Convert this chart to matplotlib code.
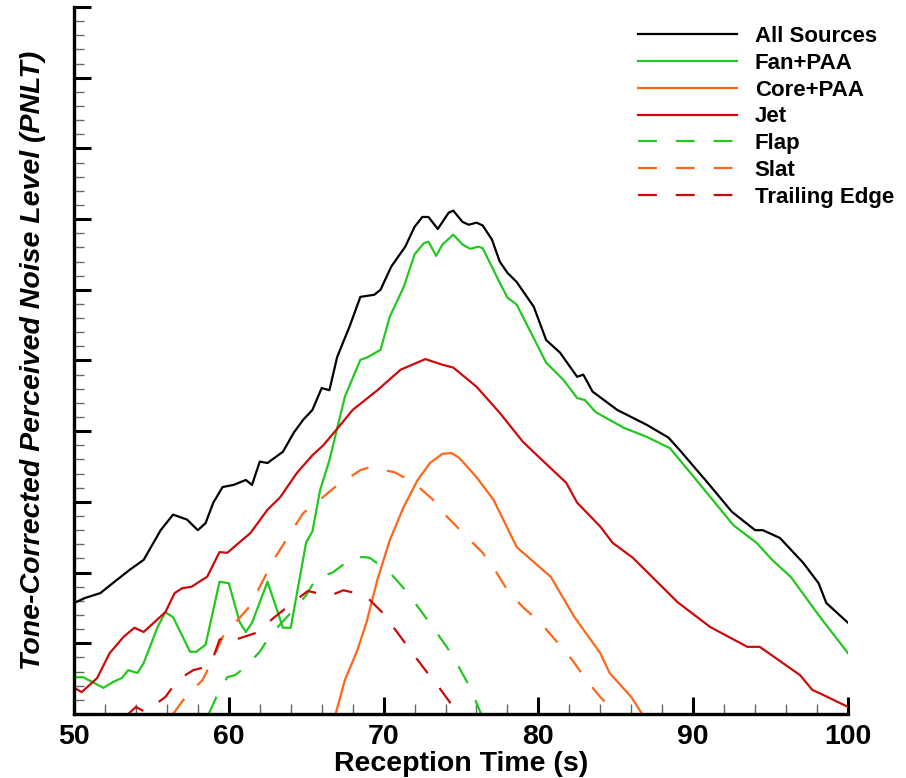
import matplotlib.pyplot as plt
from matplotlib.ticker import MultipleLocator, NullFormatter

plt.rcParams['font.family'] = ['Liberation Sans', 'DejaVu Sans']
plt.rcParams['font.weight'] = 'bold'

# All Sources
all_x = [50, 50.7, 51.7, 52.5, 53.6, 54.5, 55.6, 56.4, 57.3, 58, 58.5, 59, 59.6, 60.3, 61.1, 61.5,
         62, 62.5, 63.5, 64.2, 64.8, 65.4, 66, 66.5, 67, 67.8, 68.5, 69.4, 69.8, 70.5, 71.4, 72,
         72.5, 72.9, 73.5, 74.2, 74.5, 75.1, 75.5, 76, 76.4, 77, 77.5, 78, 78.6, 79.7, 80.5, 81.4,
         82.5, 82.9, 83.5, 85.1, 87, 88.4, 89.1, 90.9, 92.5, 94, 94.5, 95.6, 97.1, 98.1, 98.6, 100]
all_y = [15.7, 16.4, 17.1, 18.5, 20.4, 21.8, 26, 28.2, 27.5, 26, 27, 29.9, 32.1, 32.4, 33.1, 32.4,
         35.7, 35.5, 37.1, 39.8, 41.6, 43, 46.1, 45.8, 50.5, 54.8, 59, 59.3, 60, 63.3, 66.1, 68.9,
         70.3, 70.3, 68.6, 70.9, 71.2, 69.6, 69.2, 69.5, 69.1, 67.1, 64, 62.4, 61.1, 57.6, 52.9, 51.1,
         47.7, 48, 45.6, 43, 40.9, 39.1, 37.4, 32.8, 28.6, 26, 26, 24.9, 21.4, 18.5, 15.7, 12.9]

# Fan+PAA
fan_x = [50, 50.6, 51.9, 52.5, 53.1, 53.5, 54.1, 54.5, 55.4, 55.9, 56.4, 57.5, 57.9, 58.5, 59.4, 60,
         60.7, 61.1, 61.5, 62.5, 63.5, 64, 65, 65.4, 65.9, 66.5, 67.5, 68.5, 68.9, 69.8, 70.4, 71.3,
         72, 72.6, 72.9, 73.4, 73.8, 74.5, 75.1, 75.6, 76.1, 76.4, 77.5, 78, 78.6, 80.5, 81.6, 82.5,
         83, 83.7, 85.5, 87, 88.5, 90.2, 92.6, 94.1, 95.1, 96.3, 98.2, 100]
fan_y = [5.2, 5.2, 3.7, 4.5, 5.1, 6.2, 5.8, 7.2, 12.3, 14.4, 13.7, 8.8, 8.8, 9.8, 18.7, 18.5,
         13, 11.6, 12.9, 18.7, 12.2, 12.2, 24.3, 25.8, 31.7, 35.9, 44.9, 50.1, 50.4, 51.5, 56.2, 60.4,
         65, 66.6, 66.8, 64.8, 66.4, 67.8, 66.4, 65.8, 66.1, 65.9, 61, 58.9, 57.9, 49.7, 47.3, 44.7,
         44.4, 42.7, 40.5, 39.2, 37.6, 33.1, 26.7, 24.2, 21.8, 19.4, 13.7, 8.6]

# Core+PAA
core_x = [66.9, 67.5, 68.3, 68.9, 69.6, 70.4, 71.3, 72.2, 73, 73.8, 74.4, 74.9, 76, 77.1, 78.6,
          79.7, 80.8, 82.3, 84, 84.6, 86, 86.7]
core_y = [0, 4.8, 9, 13, 19, 24.6, 29.3, 33.1, 35.5, 36.8, 36.9, 36.2, 33.5, 30.3, 23.6,
          21.5, 19.4, 13.8, 8.6, 5.8, 2.4, 0]

# Jet
jet_x = [50, 50.5, 51.5, 52.3, 53.2, 53.9, 54.5, 55.9, 56.5, 57, 57.6, 58.3, 58.6, 59.4, 59.9,
         60.7, 61.4, 62.5, 63.3, 64.4, 65.4, 66.1, 67.1, 68, 69.6, 71.1, 72.7, 73.8, 74.5, 76,
         77.5, 79, 80.1, 81.8, 82.5, 84, 84.8, 86.1, 89, 91.1, 93.5, 94.3, 96.9, 97.7, 98.4, 100]
jet_y = [3.7, 3.1, 5.1, 8.6, 10.9, 12.2, 11.6, 14.4, 17.1, 17.8, 18, 19, 19.4, 22.9, 22.8,
         24.3, 25.6, 28.9, 30.6, 34.1, 36.6, 38, 40.6, 43, 45.8, 48.7, 50.2, 49.4, 49, 46.3,
         42.6, 38.5, 36.2, 32.7, 29.9, 26.5, 24.2, 22.1, 15.8, 12.3, 9.5, 9.5, 5.5, 3.4, 2.7, 1]

# Flap
flap_x = [58.7, 59.2, 59.9, 60.4, 61, 62, 62.7, 64, 65, 65.7, 66.3, 66.7, 68, 68.7, 69.1, 70.4,
          71.5, 72.5, 73.4, 74.2, 74.9, 75.6, 76.3]
flap_y = [0, 2.4, 5.2, 5.5, 6.5, 8.8, 11.2, 14.3, 16.8, 19.4, 19.7, 20, 22.1, 22.2, 22.1, 20,
          17.3, 14.3, 11.6, 9.1, 6.5, 3.7, 0]

# Slat
slat_x = [56.4, 57.2, 58.3, 58.9, 59.6, 60.3, 61.3, 62, 62.9, 64.1, 64.8, 66.1, 66.8, 68.5, 69.1,
          70.7, 71.9, 73.2, 74.1, 75.4, 76.4, 77.3, 78, 79, 80.1, 81.2, 82.2, 83.1, 84, 84.6]
slat_y = [0, 2.4, 4.8, 7.4, 10.9, 12.6, 15.1, 18, 21.8, 26, 28.4, 30.7, 32, 34.5, 34.9,
          34.2, 32.8, 30.3, 27.9, 25, 22.8, 20, 17.5, 15.1, 13, 10.2, 7.6, 4.8, 2.4, 1.0]

# Trailing Edge
te_x = [53.5, 54, 54.6, 55.9, 56.7, 57.7, 58.6, 58.9, 59.4, 59.9, 60.4, 61.8, 62.9, 64.1, 65.1,
        66.5, 67.4, 68.8, 69.9, 70.9, 71.7, 72.7, 73.6, 74.5, 74.7]
te_y = [0, 1, 0.3, 2.4, 4.8, 6.2, 6.7, 7.4, 10.5, 11.2, 10.5, 11.5, 13.6, 15.7, 17.4,
        16.7, 17.5, 16.8, 14.4, 11.5, 9.1, 6.2, 3.7, 1, 0]

GREEN = '#22c81e'
ORANGE = '#ff6619'
RED = '#cc0a0a'

fig = plt.figure(figsize=(9.06, 7.78), dpi=100)
ax = fig.add_axes([74 / 906, 1 - 714 / 778, (848 - 74) / 906, (714 - 7) / 778])

lw = 1.6
dash = (8.5, 8.5)
ax.plot(all_x, all_y, color='black', lw=lw, label='All Sources')
ax.plot(fan_x, fan_y, color=GREEN, lw=lw, label='Fan+PAA')
ax.plot(core_x, core_y, color=ORANGE, lw=lw, label='Core+PAA')
ax.plot(jet_x, jet_y, color=RED, lw=lw, label='Jet')
ax.plot(flap_x, flap_y, color=GREEN, lw=lw, dashes=dash, label='Flap')
ax.plot(slat_x, slat_y, color=ORANGE, lw=lw, dashes=dash, label='Slat')
ax.plot(te_x, te_y, color=RED, lw=lw, dashes=dash, label='Trailing Edge')

ax.set_xlim(50, 100)
ax.set_ylim(0, 100)
ax.spines['top'].set_visible(False)
ax.spines['right'].set_visible(False)
ax.spines['left'].set_linewidth(2.4)
ax.spines['bottom'].set_linewidth(2.4)

ax.xaxis.set_major_locator(MultipleLocator(10))
ax.xaxis.set_minor_locator(MultipleLocator(2))
ax.yaxis.set_major_locator(MultipleLocator(10))
ax.yaxis.set_minor_locator(MultipleLocator(2))
ax.yaxis.set_major_formatter(NullFormatter())
ax.tick_params(which='major', direction='in', length=12, width=2.2, color='black')
ax.tick_params(which='minor', direction='in', length=7, width=1.0, color='#666666')
ax.tick_params(axis='x', which='major', labelsize=20.5, pad=7)

ax.set_xlabel('Reception Time (s)', fontsize=20.5, fontweight='bold', labelpad=1)
ax.set_ylabel('Tone-Corrected Perceived Noise Level (PNLT)', fontsize=20.5,
              fontweight='bold', fontstyle='italic')
ax.yaxis.set_label_coords(-0.036, 0.50)

fig.legend(loc='upper left', bbox_to_anchor=(638 / 906, 1 - 26 / 778), frameon=False,
           handlelength=4.45, handletextpad=0.8, labelspacing=0.26,
           borderaxespad=0, borderpad=0, prop={'weight': 'bold', 'size': 16})

fig.savefig('out.png', dpi=100)
